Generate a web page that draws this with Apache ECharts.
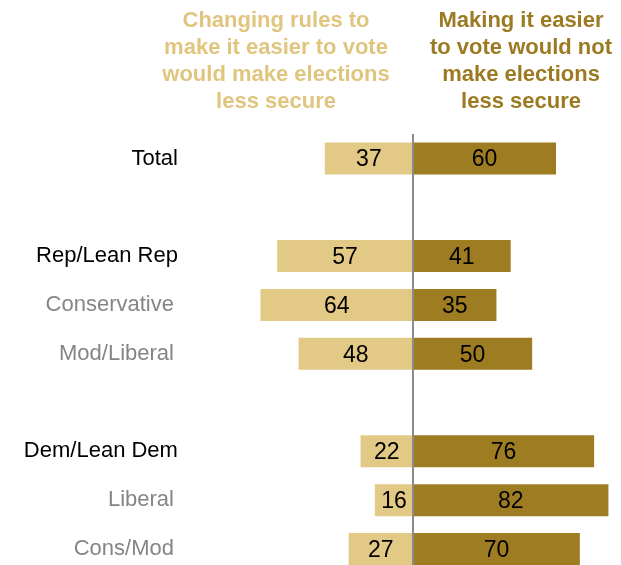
<!DOCTYPE html>
<html>
<head>
<meta charset="utf-8">
<script src="https://cdn.jsdelivr.net/npm/echarts@6/dist/echarts.min.js"></script>
<style>
  html, body { margin: 0; padding: 0; background: #ffffff; }
  #chart { width: 621px; height: 565px; }
</style>
</head>
<body>
<div id="chart"></div>
<script>
// Groups, top to bottom; empty strings are spacer rows between blocks
const categories = ['Total', '', 'Rep/Lean Rep', 'Conservative', 'Mod/Liberal', '', 'Dem/Lean Dem', 'Liberal', 'Cons/Mod'];
// Sub-groups drawn in gray
const subGroups = ['Conservative', 'Mod/Liberal', 'Liberal', 'Cons/Mod'];
// % saying changing rules would make elections less secure
const lessSecure = [37, null, 57, 64, 48, null, 22, 16, 27];
// % saying making voting easier would not make elections less secure
const notLessSecure = [60, null, 41, 35, 50, null, 76, 82, 70];

const leftTitle = 'Changing rules to\nmake it easier to vote\nwould make elections\nless secure';
const rightTitle = 'Making it easier\nto vote would not\nmake elections\nless secure';

const LIGHT = '#E2C985';
const DARK = '#9E7C22';
const FONT = "'Liberation Sans', Arial, sans-serif";

// horizontal scale: 143px per 60 points, zero line at x = 413
const pxPerUnit = 143 / 60;
const xMin = -98, xMax = 87;
const gridLeft = 413 + xMin * pxPerUnit;
const gridWidth = (xMax - xMin) * pxPerUnit;
const band = 48.81;

const chart = echarts.init(document.getElementById('chart'), null, { renderer: 'canvas' });

const valueLabel = {
  show: true,
  position: 'inside',
  offset: [0, 1.5],
  color: '#000000',
  fontSize: 23,
  fontFamily: FONT
};

chart.setOption({
  animation: false,
  backgroundColor: '#ffffff',
  title: [
    {
      text: leftTitle, left: 276, top: 7.5, textAlign: 'center', padding: 0,
      textStyle: { fontFamily: FONT, fontSize: 22, fontWeight: 'bold', color: '#E0C57E', lineHeight: 27 }
    },
    {
      text: rightTitle, left: 521, top: 7.5, textAlign: 'center', padding: 0,
      textStyle: { fontFamily: FONT, fontSize: 22, fontWeight: 'bold', color: '#9B7A22', lineHeight: 27 }
    }
  ],
  grid: {
    left: gridLeft, width: gridWidth,
    top: 158.5 - band / 2, height: band * categories.length,
    outerBoundsMode: 'none'
  },
  xAxis: {
    type: 'value', min: xMin, max: xMax,
    show: false
  },
  yAxis: {
    type: 'category',
    data: categories,
    inverse: true,
    axisLine: { show: false },
    axisTick: { show: false },
    splitLine: { show: false },
    axisLabel: {
      margin: 1.5,
      fontFamily: FONT,
      fontSize: 22,
      formatter: v => subGroups.includes(v) ? '{sub|' + v + '}' : '{main|' + v + '}',
      rich: {
        main: { color: '#000000', fontSize: 22, fontFamily: FONT },
        sub: { color: '#858585', fontSize: 22, fontFamily: FONT, padding: [0, 4, 0, 0] }
      }
    }
  },
  series: [
    {
      name: 'less secure',
      type: 'bar',
      stack: 'view',
      barWidth: 32,
      data: lessSecure.map(v => v == null ? null : -v),
      itemStyle: { color: LIGHT },
      label: Object.assign({}, valueLabel, { formatter: p => Math.abs(p.value) }),
      markLine: {
        silent: true,
        symbol: 'none',
        label: { show: false },
        lineStyle: { color: '#8C8C8C', width: 2, type: 'solid' },
        data: [{ xAxis: 0 }]
      }
    },
    {
      name: 'not less secure',
      type: 'bar',
      stack: 'view',
      barWidth: 32,
      data: notLessSecure,
      itemStyle: { color: DARK },
      label: valueLabel
    }
  ]
});
</script>
</body>
</html>
